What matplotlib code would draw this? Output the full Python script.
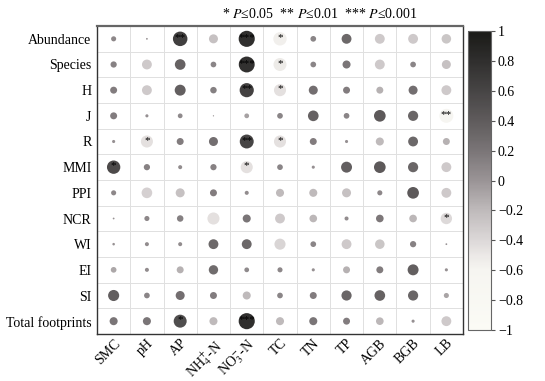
import numpy as np
import matplotlib
matplotlib.use('Agg')
import matplotlib.pyplot as plt
from matplotlib.colors import LinearSegmentedColormap

plt.rcParams['font.family'] = ['Liberation Serif', 'DejaVu Serif']
plt.rcParams['mathtext.fontset'] = 'stix'

rows = ['Abundance', 'Species', 'H', 'J', 'R', 'MMI', 'PPI', 'NCR', 'WI', 'EI', 'SI', 'Total footprints']
cols = ['SMC', 'pH', 'AP', r'NH$_4^{+}$-N', r'NO$_3^{-}$-N', 'TC', 'TN', 'TP', 'AGB', 'BGB', 'LB']

# correlation coefficients, row by row
r_abundance = [0.08, 0.01, 0.65, -0.25, 0.80, -0.55, 0.10, 0.30, -0.30, -0.30, -0.28]
r_species   = [0.12, -0.30, 0.35, 0.10, 0.78, -0.52, 0.10, 0.20, -0.30, 0.10, -0.25]
r_h         = [0.15, -0.30, 0.37, 0.13, 0.62, -0.45, 0.25, 0.15, -0.15, 0.25, -0.30]
r_j         = [0.15, 0.03, 0.07, 0.005, -0.07, 0.10, 0.35, 0.10, 0.42, 0.32, -0.60]
r_r         = [0.03, -0.45, 0.15, 0.25, 0.60, -0.45, 0.15, 0.03, -0.20, 0.30, -0.15]
r_mmi       = [0.55, 0.12, 0.05, 0.12, -0.45, 0.10, 0.03, 0.37, 0.42, 0.32, -0.30]
r_ppi       = [0.08, -0.35, -0.25, 0.15, 0.05, -0.20, -0.20, -0.25, 0.08, 0.42, -0.30]
r_ncr       = [0.01, 0.08, 0.13, -0.45, 0.20, -0.30, -0.18, 0.05, 0.18, -0.18, -0.40]
r_wi        = [0.02, 0.05, 0.05, 0.30, 0.30, -0.38, 0.10, -0.30, -0.28, 0.12, 0.01]
r_ei        = [-0.10, 0.05, -0.15, 0.27, 0.07, 0.08, 0.03, -0.15, 0.15, 0.37, 0.03]
r_si        = [0.38, 0.10, 0.25, 0.15, -0.20, 0.10, 0.15, 0.32, 0.35, 0.32, -0.08]
r_total     = [0.20, 0.20, 0.52, -0.20, 0.80, -0.20, 0.20, 0.15, -0.18, 0.03, -0.30]

# significance marks
sig = [
    ['', '', '**', '', '***', '*', '', '', '', '', ''],
    ['', '', '', '', '***', '*', '', '', '', '', ''],
    ['', '', '', '', '**', '*', '', '', '', '', ''],
    ['', '', '', '', '', '', '', '', '', '', '**'],
    ['', '*', '', '', '**', '*', '', '', '', '', ''],
    ['*', '', '', '', '*', '', '', '', '', '', ''],
    ['', '', '', '', '', '', '', '', '', '', ''],
    ['', '', '', '', '', '', '', '', '', '', '*'],
    ['', '', '', '', '', '', '', '', '', '', ''],
    ['', '', '', '', '', '', '', '', '', '', ''],
    ['', '', '', '', '', '', '', '', '', '', ''],
    ['', '', '*', '', '***', '', '', '', '', '', ''],
]

corr = np.array([r_abundance, r_species, r_h, r_j, r_r, r_mmi, r_ppi,
                 r_ncr, r_wi, r_ei, r_si, r_total])

cmap = LinearSegmentedColormap.from_list('greys_corr', [
    (0.0, '#fbfbf5'), (0.20, '#f6f5f1'), (0.25, '#ebe8e6'), (0.30, '#dcd8d8'),
    (0.40, '#bfbabb'), (0.50, '#9a9496'), (0.60, '#7a7577'), (0.70, '#5f5b5c'),
    (0.80, '#474545'), (0.90, '#302f2e'), (1.0, '#1a1a17')])

fig = plt.figure(figsize=(5.45, 3.81), dpi=100)
ax = fig.add_axes([97/545, 1-334/381, 366/545, 308/381])

yy, xx = np.mgrid[0:len(rows), 0:len(cols)]
sc = ax.scatter(xx.ravel(), yy.ravel(), s=168*np.abs(corr.ravel()), c=corr.ravel(),
                cmap=cmap, vmin=-1, vmax=1, edgecolors='none', zorder=3)

for i in range(len(rows)):
    for j in range(len(cols)):
        if sig[i][j]:
            ax.text(j, i - 0.05, sig[i][j], ha='center', va='center', fontsize=8,
                    color='black', zorder=4)

for k in range(1, len(cols)):
    ax.axvline(k - 0.5, color='#e0e0e0', lw=0.7, zorder=1)
for k in range(1, len(rows)):
    ax.axhline(k - 0.5, color='#e0e0e0', lw=0.7, zorder=1)

ax.set_xlim(-0.5, len(cols) - 0.5)
ax.set_ylim(len(rows) - 0.5, -0.5)
ax.set_xticks(range(len(cols)))
ax.set_xticklabels(cols, rotation=45, ha='right', va='top', rotation_mode='anchor', fontsize=10)
ax.set_yticks(range(len(rows)))
ax.set_yticklabels(rows, fontsize=10)
ax.tick_params(axis='y', length=0, pad=4)
ax.tick_params(axis='x', length=0, pad=2)
for s in ax.spines.values():
    s.set_color('#333333')
    s.set_linewidth(1.0)
ax.spines['top'].set_linewidth(1.6)
ax.spines['top'].set_color('#666666')

cax = fig.add_axes([468/545, 1-330/381, 23/545, 299/381])
cb = fig.colorbar(sc, cax=cax, ticks=np.linspace(-1, 1, 11))
cb.ax.set_yticklabels(['\u22121', '\u22120.8', '\u22120.6', '\u22120.4', '\u22120.2', '0',
                       '0.2', '0.4', '0.6', '0.8', '1'])
cb.ax.tick_params(labelsize=10, length=3, width=0.8, color='#555555', pad=2)
cb.outline.set_edgecolor('#666666')
cb.outline.set_linewidth(0.8)

fig.text(320/545, 1-14/381, r'* $P$≤0.05  ** $P$≤0.01  *** $P$≤0.001',
         ha='center', va='center', fontsize=10)

fig.savefig('out.png', dpi=100)
